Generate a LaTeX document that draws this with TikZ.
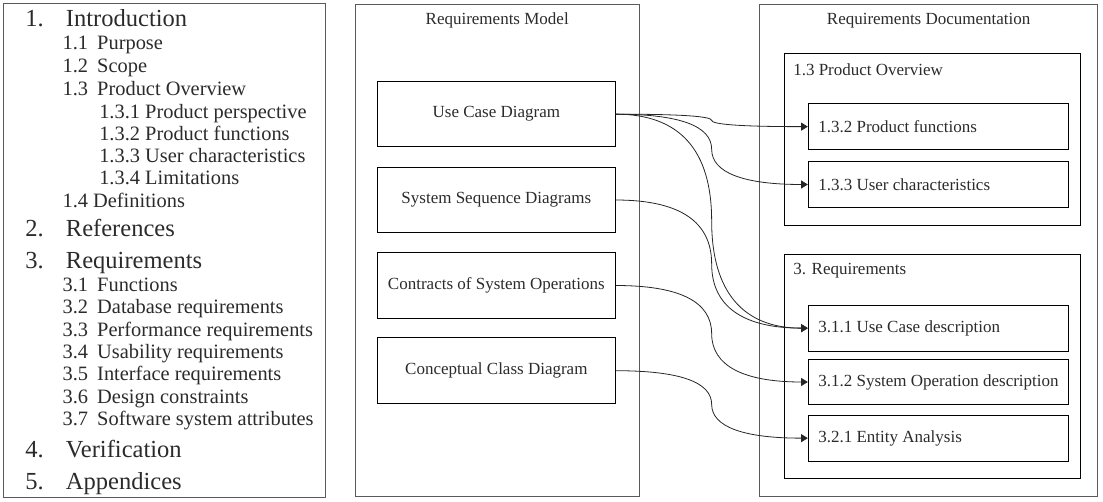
\documentclass[tikz,border=0pt]{standalone}
\usepackage{fontspec}
\setmainfont{Liberation Serif}
\usetikzlibrary{arrows.meta,calc}
\definecolor{txt}{HTML}{2B2B2B}
\definecolor{outerc}{HTML}{5A5A5A}
\newcommand\curveconn[2]{%
  \draw[conn] let \p1=(#1), \p2=(#2), \n1={0.5*(\x1+\x2)}, \n2={0.5*(\y1+\y2)} in
    (\p1) .. controls ({\x1+2/3*(\n1*1pt-\x1)},\y1) and ({\n1*1pt},{\n2*1pt+2/3*(\y1-\n2*1pt)}) ..
    ({\n1*1pt},{\n2*1pt}) .. controls ({\n1*1pt},{\n2*1pt+2/3*(\y2-\n2*1pt)}) and ({\x2+2/3*(\n1*1pt-\x2)},\y2) .. (\p2);}
\newcommand\lefttext[1]{\makebox[180pt][l]{#1}}
\begin{document}
\begin{tikzpicture}[x=0.75pt,y=-0.75pt,
  outerbox/.style={draw=outerc, line width=0.75pt, inner sep=0pt},
  mbox/.style={draw=black, line width=0.75pt, minimum width=178pt, minimum height=49.2pt, inner sep=0pt, text=txt, font=\fontsize{12.75}{15}\selectfont},
  groupbox/.style={draw=black, line width=0.75pt, minimum width=222pt, inner sep=0pt},
  dbox/.style={draw=black, line width=0.75pt, minimum height=34.4pt, minimum width=195pt, inner xsep=7.5pt, inner ysep=0pt, text=txt, font=\fontsize{12.75}{15}\selectfont},
  ttl/.style={inner sep=0pt, text=txt, font=\fontsize{12.75}{15}\selectfont},
  mainitem/.style={anchor=base west, inner sep=0pt, text=txt, font=\fontsize{18.4}{22}\selectfont},
  subitem/.style={anchor=base west, inner sep=0pt, text=txt, font=\fontsize{15.3}{18}\selectfont},
  conn/.style={draw=black!85, line width=0.6pt, -{Triangle[length=5pt,width=6pt]}}
]
\useasboundingbox (0,0) rectangle (1103,502);

% left outline
\node[outerbox, minimum width=241.5pt, minimum height=371pt] (list) at (164.5,250.65) {};
\node[mainitem] (i1) at (25,26.7) {\makebox[30.5pt][l]{1.}Introduction};
\node[subitem] (i11) at (62.3,50) {\makebox[26pt][l]{1.1}Purpose};
\node[subitem] (i12) at (62.3,72.7) {\makebox[26pt][l]{1.2}Scope};
\node[subitem] (i13) at (62.3,95.5) {\makebox[26pt][l]{1.3}Product Overview};
\node[subitem] (i131) at (99,118.2) {1.3.1 Product perspective};
\node[subitem] (i132) at (99,140.6) {1.3.2 Product functions};
\node[subitem] (i133) at (99,162.8) {1.3.3 User characteristics};
\node[subitem] (i134) at (99,185) {1.3.4 Limitations};
\node[subitem] (i14) at (62.3,207.3) {1.4 Definitions};
\node[mainitem] (i2) at (25,236.7) {\makebox[30.5pt][l]{2.}References};
\node[mainitem] (i3) at (25,269) {\makebox[30.5pt][l]{3.}Requirements};
\node[subitem] (i31) at (62.3,291.7) {\makebox[26pt][l]{3.1}Functions};
\node[subitem] (i32) at (62.3,314) {\makebox[26pt][l]{3.2}Database requirements};
\node[subitem] (i33) at (62.3,336.2) {\makebox[26pt][l]{3.3}Performance requirements};
\node[subitem] (i34) at (62.3,358.4) {\makebox[26pt][l]{3.4}Usability requirements};
\node[subitem] (i35) at (62.3,380.7) {\makebox[26pt][l]{3.5}Interface requirements};
\node[subitem] (i36) at (62.3,403.2) {\makebox[26pt][l]{3.6}Design constraints};
\node[subitem] (i37) at (62.3,425.6) {\makebox[26pt][l]{3.7}Software system attributes};
\node[mainitem] (i4) at (25,457.7) {\makebox[30.5pt][l]{4.}Verification};
\node[mainitem] (i5) at (25,489.3) {\makebox[30.5pt][l]{5.}Appendices};

% requirements model
\node[outerbox, minimum width=213.2pt, minimum height=369.5pt] (model) at (497.2,250.35) {};
\node[ttl] (modelttl) at (497.2,20.7) {Requirements Model};
\node[mbox] (uc) at (496.35,114.15) {Use Case Diagram};
\node[mbox] (ssd) at (496.35,200) {System Sequence Diagrams};
\node[mbox] (cso) at (496.35,285.5) {Contracts of System Operations};
\node[mbox] (ccd) at (496.35,370.7) {Conceptual Class Diagram};

% requirements documentation
\node[outerbox, minimum width=253pt, minimum height=369.5pt] (doc) at (928.65,250.35) {};
\node[ttl] (docttl) at (928.65,20.5) {Requirements Documentation};
\node[groupbox, minimum height=129.5pt] (po) at (932.3,139.65) {};
\node[ttl, anchor=west] (pottl) at (793,69.3) {1.3 Product Overview};
\node[dbox] (f132) at (938.3,126.65) {\lefttext{1.3.2 Product functions}};
\node[dbox] (f133) at (938.3,184.5) {\lefttext{1.3.3 User characteristics}};
\node[groupbox, minimum height=168pt] (req) at (932.3,366.7) {};
\node[ttl, anchor=west] (reqttl) at (793,270.7) {3. Requirements};
\node[dbox] (f311) at (938.3,328.15) {\lefttext{3.1.1 Use Case description}};
\node[dbox] (f312) at (938.3,382) {\lefttext{3.1.2 System Operation description}};
\node[dbox] (f321) at (938.3,438.15) {\lefttext{3.2.1 Entity Analysis}};

% connectors
\curveconn{uc.east}{f132.west}
\curveconn{uc.east}{f133.west}
\curveconn{uc.east}{f311.west}
\curveconn{ssd.east}{f311.west}
\curveconn{cso.east}{f312.west}
\curveconn{ccd.east}{f321.west}
\end{tikzpicture}
\end{document}
